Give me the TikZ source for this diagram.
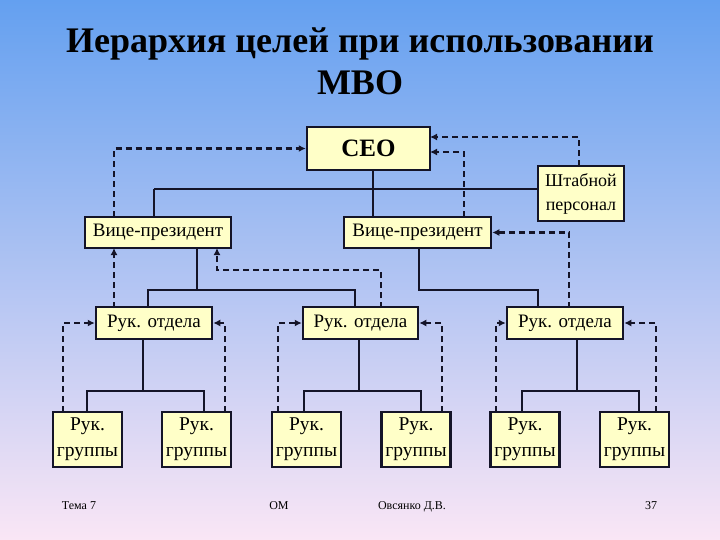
\documentclass[tikz,border=0pt]{standalone}
\usepackage{fontspec}
\setmainfont{Liberation Serif}
\usetikzlibrary{arrows.meta}
\definecolor{ln}{HTML}{141428}
\definecolor{bx}{HTML}{FFFFC8}
\begin{document}
\begin{tikzpicture}[x=1pt,y=-1pt,
  box/.style={draw=ln,line width=2.5pt,fill=bx,inner sep=0pt,font=\fontsize{19}{22}\selectfont,align=center},
  sol/.style={draw=ln,line width=2.8pt},
  dsh/.style={draw=ln,line width=2.3pt,dash pattern=on 6pt off 4pt,-{Latex[length=7pt,width=7pt]}},
  foot/.style={font=\fontsize{12}{14}\selectfont,anchor=base}]
\shade[top color={rgb,255:red,100;green,160;blue,240},bottom color={rgb,255:red,250;green,230;blue,245}] (0,0) rectangle (720,540);
\useasboundingbox (0,0) rectangle (720,540);
\node[font=\bfseries\fontsize{36}{42}\selectfont,align=center] (title) at (360,61) {Иерархия целей при использовании\\MBO};
% boxes
\node[box,minimum width=123pt,minimum height=43pt,font=\bfseries\fontsize{25}{30}\selectfont] (ceo) at (368.5,148.5) {CEO};
\node[box,minimum width=86pt,minimum height=55pt,font=\fontsize{18}{24}\selectfont] (st) at (581,193.5) {Штабной\\персонал};
\node[box,minimum width=146pt,minimum height=31pt] (vp1) at (158,232.5) {Вице-президент};
\node[box,minimum width=147pt,minimum height=31pt] (vp2) at (417.5,232.5) {Вице-президент};
\node[box,minimum width=116pt,minimum height=32pt] (d1) at (154,323) {Рук. отдела};
\node[box,minimum width=115pt,minimum height=32pt] (d2) at (360.5,323) {Рук. отдела};
\node[box,minimum width=116pt,minimum height=32pt] (d3) at (565,323) {Рук. отдела};
\foreach \n/\x in {g1/87.5,g2/196.5,g3/306.5,g4/416,g5/525,g6/634.5}
  \node[box,minimum width=69pt,minimum height=55pt,font=\fontsize{19.5}{26}\selectfont] (\n) at (\x,439.5) {Рук.\\группы};
% solid tree
\draw[sol] (373,170) -- (373,217);
\draw[sol] (154,189) -- (st.west |- 0,189);
\draw[sol] (154,189) -- (154,217);
\draw[sol] (197,248) -- (197,290);
\draw[sol] (148,308) -- (148,290) -- (355,290) -- (355,308);
\draw[sol] (419,248) -- (419,290) -- (538,290) -- (538,308);
\draw[sol] (143,339) -- (143,391);
\draw[sol] (87,412) -- (87,391) -- (204,391) -- (204,412);
\draw[sol] (359,339) -- (359,391);
\draw[sol] (304,412) -- (304,391) -- (421,391) -- (421,412);
\draw[sol] (577,339) -- (577,391);
\draw[sol] (522,412) -- (522,391) -- (639,391) -- (639,412);
% dashed feedback
\draw[dsh] (114,217) |- (ceo.west);
\draw[dsh] (114,308) -- (114,248);
\draw[dsh] (381,308) |- (217,270) -- (217,248);
\draw[dsh] (579,166) |- (430,137);
\draw[dsh] (464,217) |- (430,152);
\draw[dsh] (569,308) |- (vp2.east);
\draw[dsh] (63,412) |- (d1.west);
\draw[dsh] (225,412) |- (d1.east);
\draw[dsh] (278,412) |- (d2.west);
\draw[dsh] (442,412) |- (d2.east);
\draw[dsh] (496,412) |- (d3.west);
\draw[dsh] (656,412) |- (d3.east);
% footer
\node[foot] (f1) at (79,509) {Тема 7};
\node[foot] (f2) at (279,509) {ОМ};
\node[foot] (f3) at (412,509) {Овсянко Д.В.};
\node[foot] (f4) at (651,509) {37};
\end{tikzpicture}
\end{document}
